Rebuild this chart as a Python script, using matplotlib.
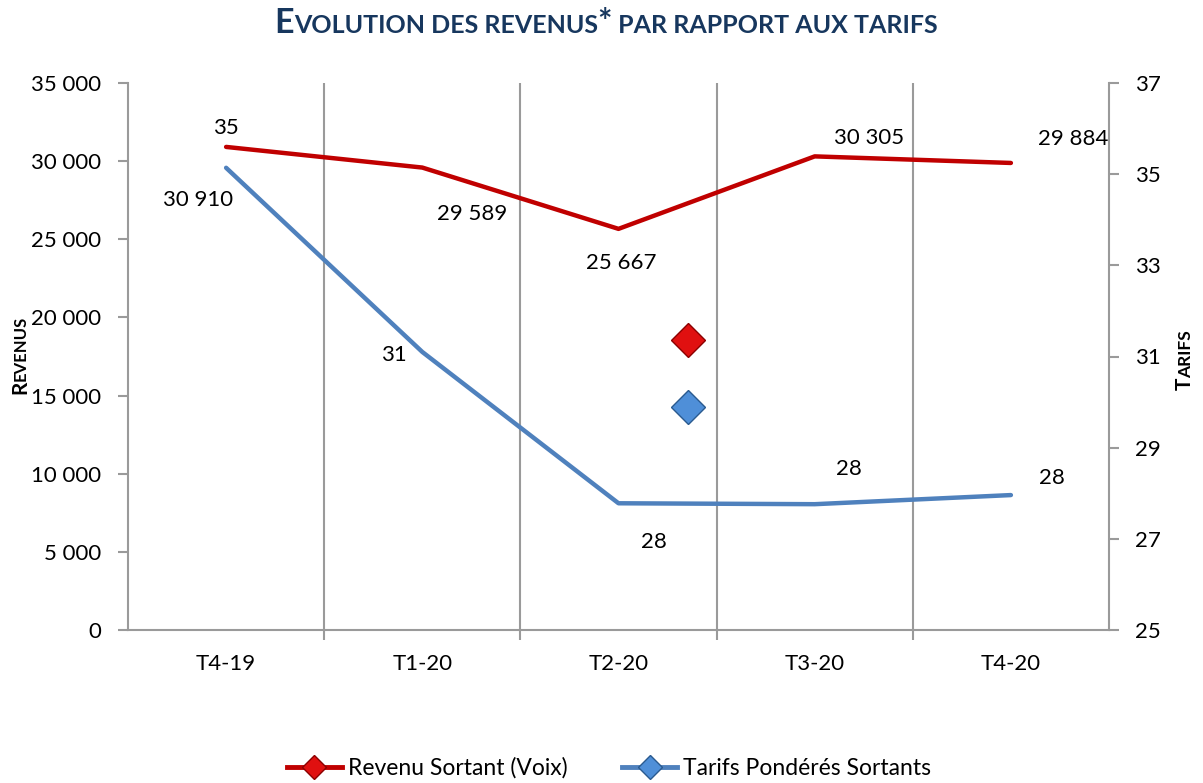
import numpy as np
import matplotlib.pyplot as plt
from matplotlib.lines import Line2D

plt.rcParams['font.family'] = ['Lato', 'DejaVu Sans']

quarters = ["T4-19", "T1-20", "T2-20", "T3-20", "T4-20"]
revenu = [30910, 29589, 25667, 30305, 29884]
tarifs = [35.14, 31.10, 27.78, 27.76, 27.96]
revenu_labels = ["30 910", "29 589", "25 667", "30 305", "29 884"]
tarifs_labels = ["35", "31", "28", "28", "28"]

# label offsets in pixels
rev_off = [(-28, -53), (50, -46), (3, -34), (54, 18), (62, 24)]
tar_off = [(0, 40), (-28, -3), (35, -39), (34, 35), (41, 17)]

red = "#C00000"
blue = "#4F81BD"
grey = "#9A9A9A"
navy = "#17375E"
W, H = 1203, 783

fig = plt.figure(figsize=(W / 100, H / 100), dpi=100)
ax = fig.add_axes([128 / W, 1 - 630 / H, (1109 - 128) / W, (630 - 83) / H])
ax2 = ax.twinx()

x = np.arange(len(quarters))
ax.plot(x, revenu, color=red, lw=3.2, solid_capstyle='round', zorder=3)
ax2.plot(x, tarifs, color=blue, lw=3.2, solid_capstyle='round', zorder=3)

for i in range(len(x)):
    ax.annotate(revenu_labels[i], (x[i], revenu[i]), xytext=rev_off[i],
                textcoords='offset pixels', ha='center', va='center', fontsize=16)
    ax2.annotate(tarifs_labels[i], (x[i], tarifs[i]), xytext=tar_off[i],
                 textcoords='offset pixels', ha='center', va='center', fontsize=16)

ax.set_xlim(-0.5, len(quarters) - 0.5)
ax.set_ylim(0, 35000)
ax2.set_ylim(25, 37)
ax.set_yticks(np.arange(0, 35001, 5000))
ax.set_yticklabels([f"{v:,}".replace(",", " ") for v in range(0, 35001, 5000)])
ax2.set_yticks(np.arange(25, 38, 2))

ax.set_xticks(x)
ax.set_xticklabels(quarters)
ax.set_xticks(np.arange(0.5, len(quarters) - 0.5), minor=True)
ax.tick_params(axis='x', which='major', length=0, pad=17.5, labelsize=16)
ax.tick_params(axis='x', which='minor', length=7, color=grey, width=1.5)
ax.grid(axis='x', which='minor', color=grey, lw=1.5)
ax.tick_params(axis='y', length=7, color=grey, width=1.5, labelsize=16, pad=12)
ax2.tick_params(axis='y', length=7, color=grey, width=1.5, labelsize=16, pad=12)

for a in (ax, ax2):
    for s in a.spines.values():
        s.set_visible(False)
ax.spines['left'].set_visible(True)
ax.spines['bottom'].set_visible(True)
ax2.spines['right'].set_visible(True)
for s in (ax.spines['left'], ax.spines['bottom'], ax2.spines['right']):
    s.set_color(grey)
    s.set_linewidth(1.5)

# stray markers drawn inside the plot area
ax.plot([0.571], [0.53], transform=ax.transAxes, marker='D', ms=17, color="#E01010",
        mec="#8B0000", mew=1, clip_on=False, zorder=4)
ax.plot([0.571], [0.407], transform=ax.transAxes, marker='D', ms=17, color="#4F8FD8",
        mec="#2A5A8F", mew=1, clip_on=False, zorder=4)


def small_caps(pieces, x0, y0, vertical=False, **kw):
    # pieces: list of (text, fontsize); x0, y0 = centre in pixels from top-left
    r = fig.canvas.get_renderer()
    rot = 90 if vertical else 0
    texts = [fig.text(0, 0, s, fontsize=fs, rotation=rot, rotation_mode='anchor',
                      ha='left', va='baseline', fontweight='bold', **kw) for s, fs in pieces]
    sizes = []
    for t in texts:
        bb = t.get_window_extent(r)
        sizes.append(bb.height if vertical else bb.width)
    pos = -sum(sizes) / 2
    for t, sz in zip(texts, sizes):
        if vertical:
            t.set_position((x0 / W, (H - y0 + pos) / H))
        else:
            t.set_position(((x0 + pos) / W, (H - y0) / H))
        pos += sz


fig.canvas.draw()
small_caps([("E", 24.5), ("VOLUTION DES REVENUS", 18), ("*", 24.5), (" PAR RAPPORT AUX TARIFS", 18)],
           606, 33, color=navy)
small_caps([("R", 15), ("EVENUS", 12)], 26, 355, vertical=True)
small_caps([("T", 15), ("ARIFS", 12.5)], 1191, 360, vertical=True)

# legend
handles = [Line2D([], [], color=red, lw=3.5, marker='D', ms=12, mfc="#E01010", mec="#8B0000"),
           Line2D([], [], color=blue, lw=3.5, marker='D', ms=12, mfc="#4F8FD8", mec="#2A5A8F")]
fig.legend(handles, ["Revenu Sortant (Voix)", "Tarifs Pondérés Sortants"], loc='center',
           bbox_to_anchor=(609 / W, 1 - 768 / H), ncol=2, frameon=False, fontsize=16.5,
           handlelength=2.4, handletextpad=0.25, columnspacing=2.4)

fig.savefig("out.png", dpi=100)
